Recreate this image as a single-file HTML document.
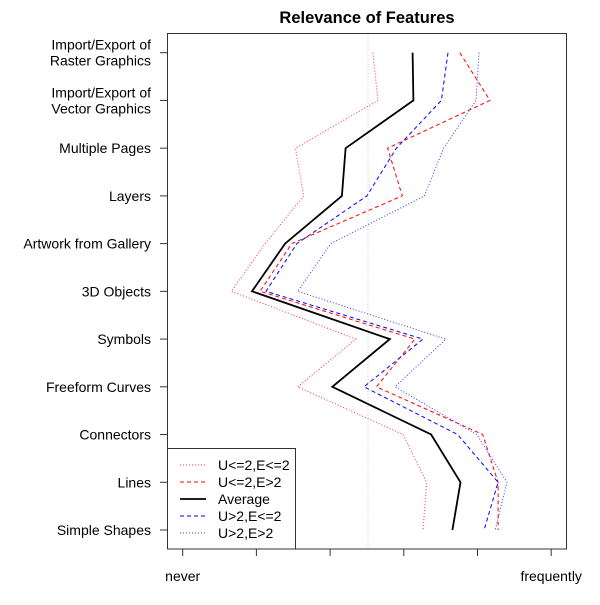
<!DOCTYPE html>
<html><head><meta charset="utf-8"><style>
body{margin:0;background:#fff}
svg text{font-family:"Liberation Sans",sans-serif;font-size:14px;fill:#000}
</style></head><body>
<svg id="chart" width="600" height="600" xmlns="http://www.w3.org/2000/svg">
<text x="367" y="23" text-anchor="middle" style="font-weight:bold;font-size:16.5px">Relevance of Features</text>
<rect x="167.5" y="33.5" width="399" height="515.5" fill="none" stroke="#333" stroke-width="1"/>
<line x1="368" y1="34" x2="368" y2="548" stroke="#ccc" stroke-dasharray="1,2"/>
<g id="axes"></g>
<g id="series"></g>
<g id="legend"></g>
</svg>
<script>
const categories=["Import/Export of\nRaster Graphics","Import/Export of\nVector Graphics","Multiple Pages","Layers","Artwork from Gallery","3D Objects","Symbols","Freeform Curves","Connectors","Lines","Simple Shapes"];
const seriesNames=["U<=2,E<=2","U<=2,E>2","Average","U>2,E<=2","U>2,E>2"];
const s1=[3.58,3.65,2.53,2.64,2.12,1.66,3.35,2.56,3.99,4.31,4.26];
const s2=[4.76,5.17,3.78,3.98,2.48,2.05,4.15,3.63,5.07,5.28,5.28];
const avg=[4.12,4.13,3.21,3.16,2.39,1.94,3.81,3.03,4.37,4.77,4.66];
const s4=[4.60,4.51,3.90,3.50,2.55,2.13,4.26,3.46,4.73,5.28,5.09];
const s5=[5.02,4.98,4.54,4.28,3.01,2.56,4.57,3.88,4.99,5.40,5.24];
const xTicks=[1,2,3,4,5,6];
const xTickLabels={1:"never",6:"frequently"};
const NS="http://www.w3.org/2000/svg";
function xs(v){return 182.7+(v-1)*73.7;}
function ys(i){return 52.7+i*47.73;}
function mk(tag,attrs,parent){const e=document.createElementNS(NS,tag);for(const k in attrs)e.setAttribute(k,attrs[k]);parent.appendChild(e);return e;}
const axes=document.getElementById('axes');
xTicks.forEach(t=>{
 const l=mk('line',{x1:xs(t),x2:xs(t),y1:549,y2:556,stroke:'#333'},axes);
 
 
 if(xTickLabels[t]){const tx=mk('text',{x:xs(t),y:581,'text-anchor':'middle'},axes);tx.textContent=xTickLabels[t];
 
 }
});
categories.forEach((c,i)=>{
 const y=ys(i);
 const l=mk('line',{x1:160,x2:167,y1:y,y2:y,stroke:'#333'},axes);
 
 
 const parts=c.split("\n");
 const t=mk('text',{x:151,'text-anchor':'end'},axes);
 
 
 if(parts.length===1){t.setAttribute('y',y+5);t.textContent=parts[0];}
 else{parts.forEach((p,j)=>{const ts=mk('tspan',{x:151,y:y-3+j*16},t);ts.textContent=p;});}
});
const styles=[
 {d:s1,stroke:'#f33',dash:'1,2',w:1,name:'series-u-le2-e-le2'},
 {d:s2,stroke:'#f00',dash:'4,3',w:1,name:'series-u-le2-e-gt2'},
 {d:avg,stroke:'#000',dash:'',w:1.8,name:'series-average'},
 {d:s4,stroke:'#00f',dash:'4,3',w:1,name:'series-u-gt2-e-le2'},
 {d:s5,stroke:'#33f',dash:'1,2',w:1,name:'series-u-gt2-e-gt2'}];
const sg=document.getElementById('series');
styles.forEach(s=>{
 const pts=s.d.map((v,i)=>xs(v).toFixed(1)+','+ys(i).toFixed(1)).join(' ');
 const p=mk('polyline',{points:pts,fill:'none',stroke:s.stroke,'stroke-width':s.w},sg);
 if(s.dash)p.setAttribute('stroke-dasharray',s.dash);
 
 
});
const lg=document.getElementById('legend');
const box=mk('rect',{x:167.5,y:448.5,width:128,height:100.5,fill:'#fff',stroke:'#333'},lg);


styles.forEach((s,i)=>{
 const y=465+i*17;
 const l=mk('line',{x1:180,x2:206,y1:y,y2:y,stroke:s.stroke,'stroke-width':s.w},lg);
 if(s.dash)l.setAttribute('stroke-dasharray',s.dash);
 
 
 const t=mk('text',{x:218,y:y+5},lg);t.textContent=seriesNames[i];
 
 
});
</script>
</body></html>
